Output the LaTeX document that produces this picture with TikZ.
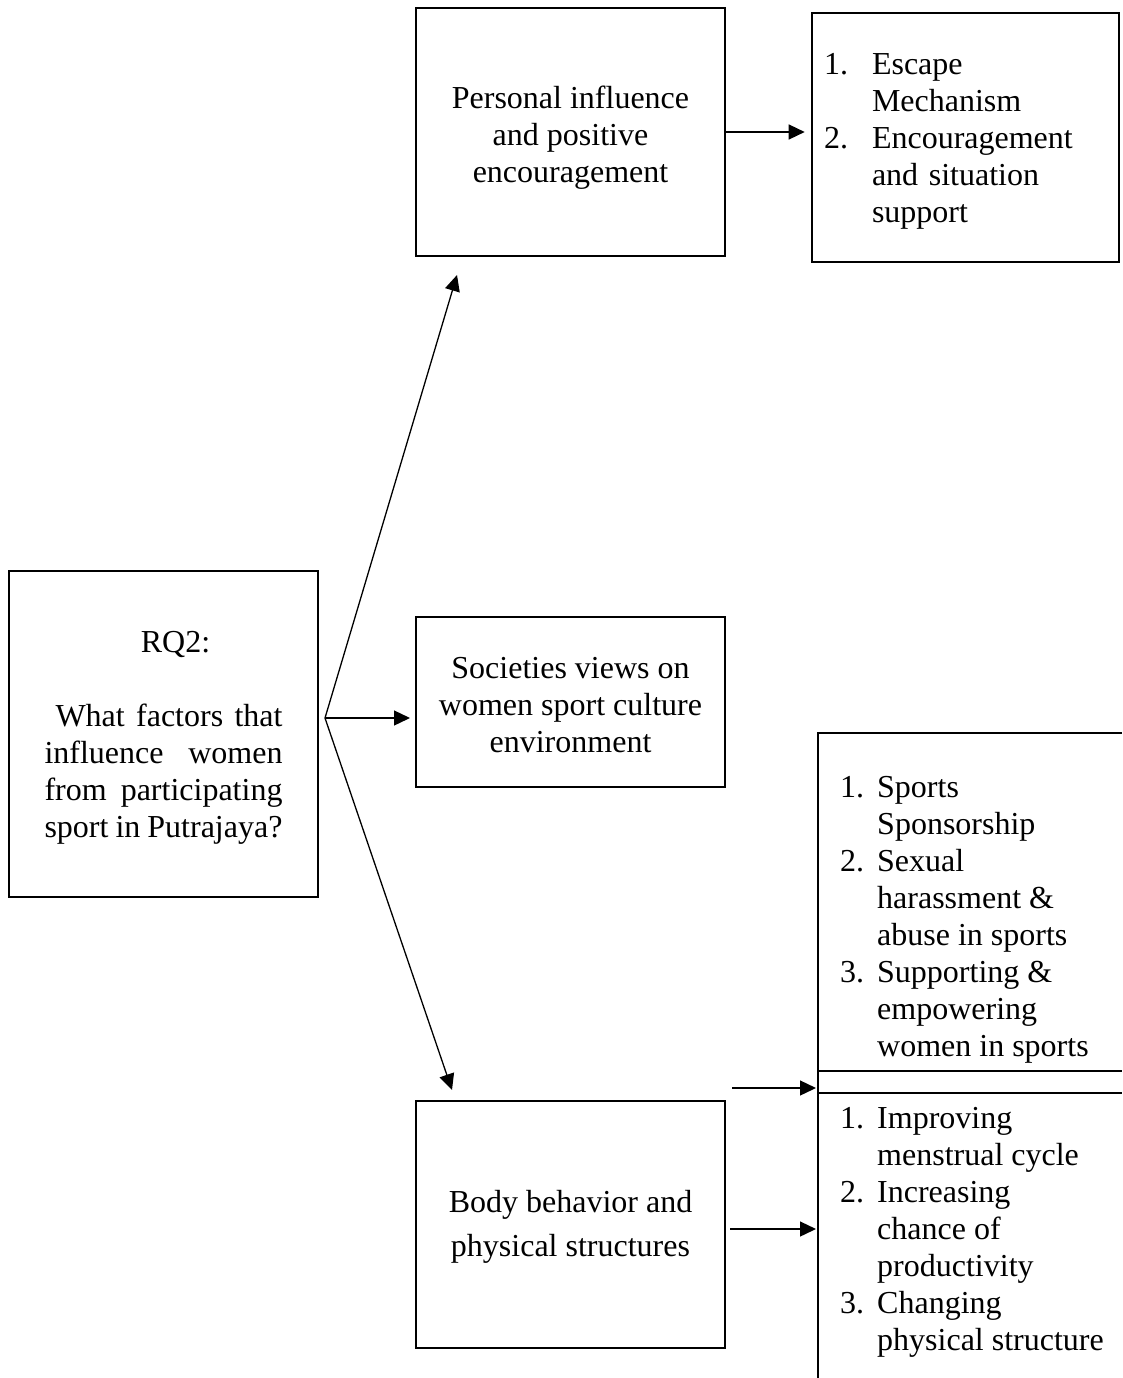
\documentclass[tikz,border=0pt]{standalone}
\usepackage{fontspec}
\setmainfont{Liberation Serif}
\usetikzlibrary{positioning,arrows.meta,calc}

\begin{document}
\begin{tikzpicture}[
  x=1pt, y=-1pt,
  box/.style={draw, line width=2.6pt, inner sep=0pt, align=center,
    font=\fontsize{32}{37}\selectfont},
  lst/.style={inner sep=0pt, anchor=west, align=left,
    font=\fontsize{32}{37}\selectfont},
  conn/.style={line width=1.3pt},
  >={Triangle[length=16pt,width=15pt]}
]
  \useasboundingbox (0,0) rectangle (1122,1378);

  % Research question
  \node[box, minimum width=309pt, minimum height=326pt] (rq) at (163.5,734) {%
    \makebox[238pt][c]{\rule{0pt}{28pt}\hspace{24pt}RQ2:}\\[37pt]
    \makebox[238pt][s]{\hspace{11pt}What factors that}\\
    \makebox[238pt][s]{influence women}\\
    \makebox[238pt][s]{from participating}\\
    \makebox[238pt][s]{sport in Putrajaya?}};

  % Factors
  \node[box, minimum width=309pt, minimum height=248pt] (pers) at (570.5,132)
    {\rule{0pt}{33pt}Personal influence\\and positive\\encouragement};
  \node[box, minimum width=309pt, minimum height=170pt] (soc) at (570.5,702)
    {\rule{0pt}{27pt}Societies views on\\women sport culture\\environment};
  \node[box, minimum width=309pt, minimum height=247pt] (body) at (570.5,1224.5)
    {\rule{0pt}{27pt}Body behavior and\\[7pt]physical structures};

  % Outcomes of personal influence
  \node[box, minimum width=307pt, minimum height=249pt, text width=283pt,
    align=left] (esc) at (965.5,137.5) {%
    \raisebox{-4pt}[\height][\depth]{\begin{tabular}{@{}l@{\hspace{24pt}}l@{}}
      1.&Escape\\ &Mechanism\\ 2.&Encouragement\\ &and situation\\ &support
    \end{tabular}}};

  % Outcomes of body behavior (open box)
  \draw[line width=2.6pt] (1122,733) -- (818,733) -- (818,1378);
  \draw[line width=2.6pt] (818,1071) -- (1122,1071);
  \draw[line width=2.6pt] (818,1093) -- (1122,1093);
  \node[lst] (spons) at (840,920) {%
    \begin{tabular}{@{}l@{\hspace{13pt}}l@{}}
      1.&Sports\\ &Sponsorship\\ 2.&Sexual\\ &harassment \&\\ &abuse in sports\\
      3.&Supporting \&\\ &empowering\\ &women in sports
    \end{tabular}};
  \node[lst] (menst) at (840,1232) {%
    \begin{tabular}{@{}l@{\hspace{13pt}}l@{}}
      1.&Improving\\ &menstrual cycle\\ 2.&Increasing\\ &chance of\\ &productivity\\
      3.&Changing\\ &physical structure
    \end{tabular}};

  % Connector ends
  \coordinate (fan) at (325,718);
  \coordinate (persin) at (457,275);
  \coordinate (socin) at (410,718);
  \coordinate (bodyin) at (452,1090);
  \coordinate (barout) at (732,1088);
  \coordinate (barin) at (816,1088);
  \coordinate (lstout) at (730,1229);
  \coordinate (lstin) at (816,1229);

  \draw[conn, ->] (fan) -- (persin);
  \draw[conn, ->] (fan) -- (socin);
  \draw[conn, ->] (fan) -- (bodyin);
  \draw[conn, ->] (pers.east) -- ([xshift=-6pt]esc.west |- pers.east);
  \draw[conn, ->] (barout) -- (barin);
  \draw[conn, ->] (lstout) -- (lstin);
\end{tikzpicture}
\end{document}
